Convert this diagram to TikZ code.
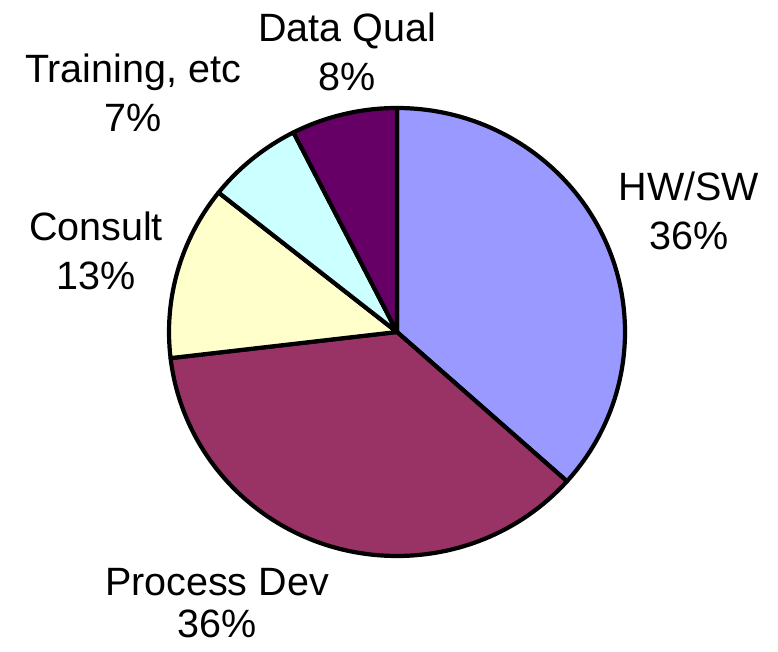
\documentclass[tikz,border=0pt]{standalone}
\usepackage{fontspec}
\setmainfont{Liberation Sans}
\definecolor{hwsw}{HTML}{9999FF}
\definecolor{procdev}{HTML}{993366}
\definecolor{consult}{HTML}{FFFFCC}
\definecolor{training}{HTML}{CCFFFF}
\definecolor{dataqual}{HTML}{660066}
\tikzset{
  slice/.style={draw=black, line width=4.2pt, line join=round},
  lbl/.style={align=center, anchor=base, inner sep=0pt,
    font=\fontsize{39.5}{49}\selectfont}
}
\begin{document}
\begin{tikzpicture}[x=1pt, y=1pt]
      \useasboundingbox (0, 0) rectangle (778, 651);
      \coordinate (c) at (397, 319);

      % slices, clockwise from the top
      \foreach \a/\b/\col in {90/-41.8/hwsw, -41.8/-173.3/procdev, 186.7/141.5/consult, 141.5/117/training, 117/90/dataqual} {
        \filldraw[slice, fill=\col] (c) -- ++({228*cos(\a)}, {224*sin(\a)})
          arc[start angle=\a, end angle=\b, x radius=228, y radius=224] -- cycle;
      }

      \node[lbl] (hw) at (689, 401) {HW/SW\\36\%};
      \node[lbl, font=\fontsize{39.5}{42}\selectfont] (pd) at (217, 14) {Process Dev\\36\%};
      \node[lbl] (cs) at (96, 361) {Consult\\13\%};
      \node[lbl] (tr) at (133, 519) {Training, etc\\7\%};
      \node[lbl] (dq) at (347, 560) {Data Qual\\8\%};
    \end{tikzpicture}
\end{document}
